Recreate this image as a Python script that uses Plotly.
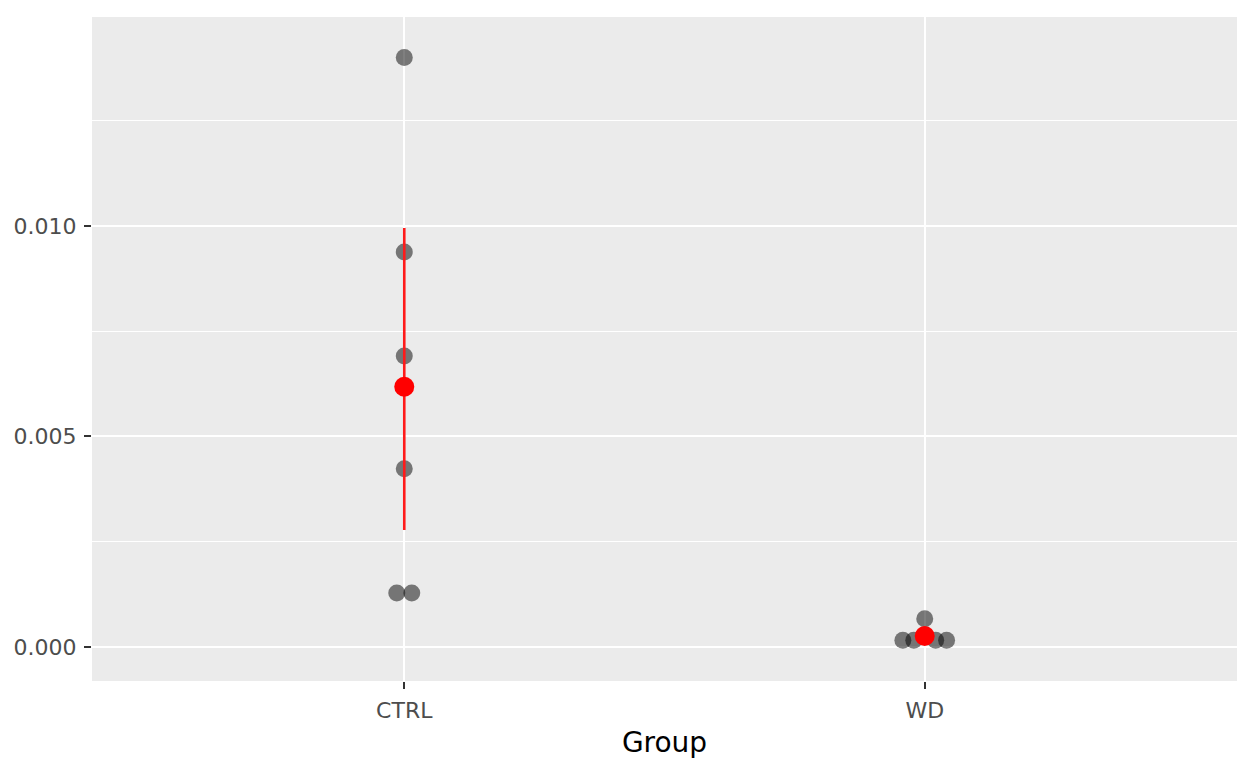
import plotly.graph_objects as go

groups = ["CTRL", "WD"]
# individual observations: group index, jitter offset (category units), value
ctrl_values = [0.0140, 0.00938, 0.00691, 0.00423, 0.00128, 0.00128]
ctrl_offsets = [0.0, 0.0, 0.0, 0.0, -0.0144, 0.0144]
wd_values = [0.00067, 0.00016, 0.00016, 0.00016, 0.00016]
wd_offsets = [0.0, -0.042, -0.021, 0.021, 0.042]
# summary: mean and error range
means = [0.00618, 0.00026]
lower = [0.00278, 0.00026]
upper = [0.00995, 0.00026]

fig = go.Figure()

xs = [0 + o for o in ctrl_offsets] + [1 + o for o in wd_offsets]
ys = ctrl_values + wd_values
fig.add_trace(go.Scatter(
    x=xs, y=ys, mode="markers",
    marker=dict(size=17, color="rgba(0,0,0,0.5)", line=dict(width=0)),
    showlegend=False, hoverinfo="y"))

for i in range(len(groups)):
    if upper[i] > lower[i]:
        fig.add_trace(go.Scatter(
            x=[i, i], y=[lower[i], upper[i]], mode="lines",
            line=dict(color="#FF1A1A", width=2.6),
            showlegend=False, hoverinfo="skip"))

fig.add_trace(go.Scatter(
    x=list(range(len(groups))), y=means, mode="markers",
    marker=dict(size=20, color="#FF0000", line=dict(width=0)),
    showlegend=False, hoverinfo="y"))

fig.update_layout(
    width=1239, height=763,
    paper_bgcolor="white", plot_bgcolor="#EBEBEB",
    margin=dict(l=92, r=2, t=17, b=82),
    font=dict(family="DejaVu Sans, sans-serif"),
    xaxis=dict(
        range=[-0.6, 1.6], tickmode="array",
        tickvals=list(range(len(groups))), ticktext=groups,
        showgrid=True, gridcolor="white", gridwidth=2,
        zeroline=False, ticks="outside", ticklen=7, tickwidth=1.5,
        tickcolor="#333333", ticklabelstandoff=3,
        tickfont=dict(size=22, color="#4D4D4D"),
        title=dict(text="Group", font=dict(size=28, color="black"), standoff=9),
        showline=False),
    yaxis=dict(
        range=[-0.000808, 0.01496],
        tickvals=[0, 0.005, 0.010], ticktext=["0.000", "0.005", "0.010"],
        showgrid=True, gridcolor="white", gridwidth=2,
        zeroline=False, ticks="outside", ticklen=7, tickwidth=1.5,
        tickcolor="#333333", ticklabelstandoff=3,
        tickfont=dict(size=22, color="#4D4D4D"),
        minor=dict(tickvals=[0.0025, 0.0075, 0.0125], showgrid=True,
                   gridcolor="white", gridwidth=1, ticks=""),
        showline=False),
)

fig.write_html("out.html", config={"displayModeBar": False},
               post_script="document.body.style.margin='0px';document.body.style.overflow='hidden';")
